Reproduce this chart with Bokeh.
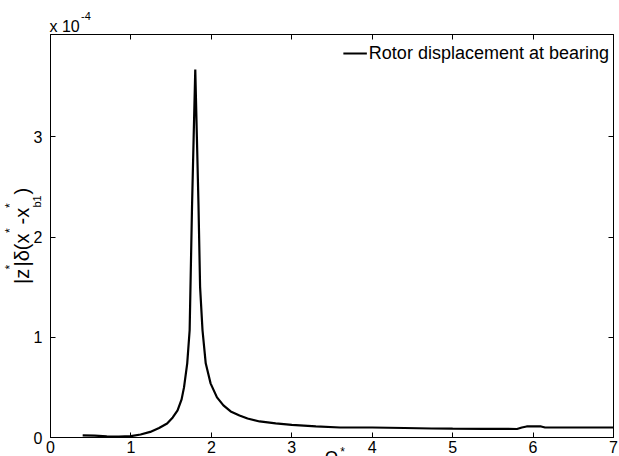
import math
from bokeh.plotting import figure
from bokeh.models import (Range1d, FixedTicker, LinearAxis, Legend,
                          LegendItem, CustomJSTickFormatter)
from bokeh.core.properties import value
from bokeh.embed import file_html
from bokeh.resources import INLINE

# Frequency ratio Omega* and displacement amplitude (in units of 1e-4)
omega = [0.40, 0.55, 0.70, 0.85, 1.00, 1.12, 1.24, 1.35, 1.45, 1.52, 1.58,
         1.63, 1.66, 1.70, 1.73, 1.76, 1.78, 1.80, 1.82, 1.84, 1.86, 1.89,
         1.93, 1.99, 2.07, 2.15, 2.24, 2.35, 2.45, 2.60, 2.80, 3.00, 3.30,
         3.60, 4.00, 4.40, 4.74, 5.00, 5.40, 5.80, 5.86, 5.92, 6.00, 6.10,
         6.15, 6.50, 7.00]
disp_e4 = [0.022, 0.018, 0.012, 0.010, 0.013, 0.030, 0.056, 0.095, 0.14,
           0.20, 0.27, 0.38, 0.50, 0.74, 1.07, 2.32, 3.00, 3.67, 3.00, 2.32,
           1.50, 1.07, 0.74, 0.54, 0.40, 0.32, 0.26, 0.22, 0.19, 0.16, 0.14,
           0.125, 0.11, 0.10, 0.10, 0.095, 0.09, 0.088, 0.086, 0.085, 0.10,
           0.11, 0.11, 0.11, 0.10, 0.10, 0.10]
x_ticks = [0, 1, 2, 3, 4, 5, 6, 7]
y_ticks = [0, 1, 2, 3]
legend_label = "Rotor displacement at bearing"

FONT = "Liberation Sans"

p = figure(frame_width=563, frame_height=403,
           x_range=Range1d(0, 7), y_range=Range1d(0, 4.02),
           output_backend="svg", toolbar_location=None,
           min_border_left=50, min_border_right=6, min_border_top=34,
           min_border_bottom=0, background_fill_color="white",
           border_fill_color="white")
p.grid.visible = False
p.outline_line_color = "black"
p.outline_line_width = 1

for ax in (p.xaxis[0], p.yaxis[0]):
    ax.major_tick_in = 5
    ax.major_tick_out = 0
    ax.minor_tick_line_color = None
    ax.axis_line_color = "black"
    ax.major_tick_line_color = "black"
    ax.major_label_text_color = "black"
    ax.major_label_text_font = FONT
    ax.major_label_text_font_size = "16px"
p.xaxis[0].ticker = FixedTicker(ticks=x_ticks)
p.yaxis[0].ticker = FixedTicker(ticks=y_ticks)
p.xaxis[0].major_label_standoff = 3
p.yaxis[0].major_label_standoff = 8

blank = CustomJSTickFormatter(code="return ''")
top_ax = LinearAxis(ticker=FixedTicker(ticks=x_ticks), formatter=blank,
                    major_tick_in=5, major_tick_out=0,
                    minor_tick_line_color=None, axis_line_color="black",
                    major_label_standoff=0)
right_ax = LinearAxis(ticker=FixedTicker(ticks=y_ticks), formatter=blank,
                      major_tick_in=5, major_tick_out=0,
                      minor_tick_line_color=None, axis_line_color="black",
                      major_label_standoff=0)
p.add_layout(top_ax, "above")
p.add_layout(right_ax, "right")

r = p.line(omega, disp_e4, line_color="black", line_width=2.2)

legend = Legend(items=[LegendItem(label=legend_label, renderers=[r])],
                location="top_right", border_line_color=None,
                background_fill_alpha=0, label_text_font=FONT,
                label_text_font_size="18px", label_text_color="black",
                glyph_width=24, glyph_height=30, label_height=30,
                label_standoff=2, padding=6, margin=4)
p.add_layout(legend)

# Transparent overlay (page-pixel coordinates) for texts outside the frame
W, H = 619, 456
ov = figure(width=W, height=H, x_range=Range1d(0, W), y_range=Range1d(0, H),
            x_axis_location=None, y_axis_location=None, min_border=0,
            toolbar_location=None, output_backend="svg",
            background_fill_color=None, border_fill_color=None,
            outline_line_color=None,
            styles={"position": "absolute", "left": "0px", "top": "0px"})
ov.grid.visible = False

ASC = 0.905  # ascent of Liberation Sans, in em


def txt(text, X, Y, size, angle=0.0, align="left"):
    """X, Y: page pixels of the text baseline start (or centre if align=center)."""
    px = float(size.replace("px", ""))
    if angle:
        ax_, ay_ = X - ASC * px, Y       # rotated CCW: ascent lies to the left
    else:
        ax_, ay_ = X, Y - ASC * px
    ov.text(x=[ax_], y=[H - ay_], text=[text], angle=angle,
            text_font=value(FONT), text_font_size=value(size),
            text_color="black", text_align=align, text_baseline="top")


# multiplier
txt("x 10", 49, 31.5, "16px")
txt("-4", 80.5, 21, "11px")

# y-axis label |z*|δ(x* -x*_b1), rotated
V = math.pi / 2
txt("|z", 28.5, 283.5, "20px", V)
txt("*", 13.6, 269.0, "12px", V)
txt("|δ(x", 28.5, 266, "20px", V)
txt("*", 13.6, 232.5, "12px", V)
txt("-x", 28.5, 224, "20px", V)
txt("*", 13.6, 207.5, "12px", V)
txt("b1", 40, 207, "11px", V)
txt(")", 28.5, 194, "20px", V)

# x-axis label Ω*
txt("Ω", 331, 464, "18px", 0, "center")
txt("*", 342, 455, "12px", 0, "center")

open("out.html", "w").write(file_html([p, ov], INLINE))
